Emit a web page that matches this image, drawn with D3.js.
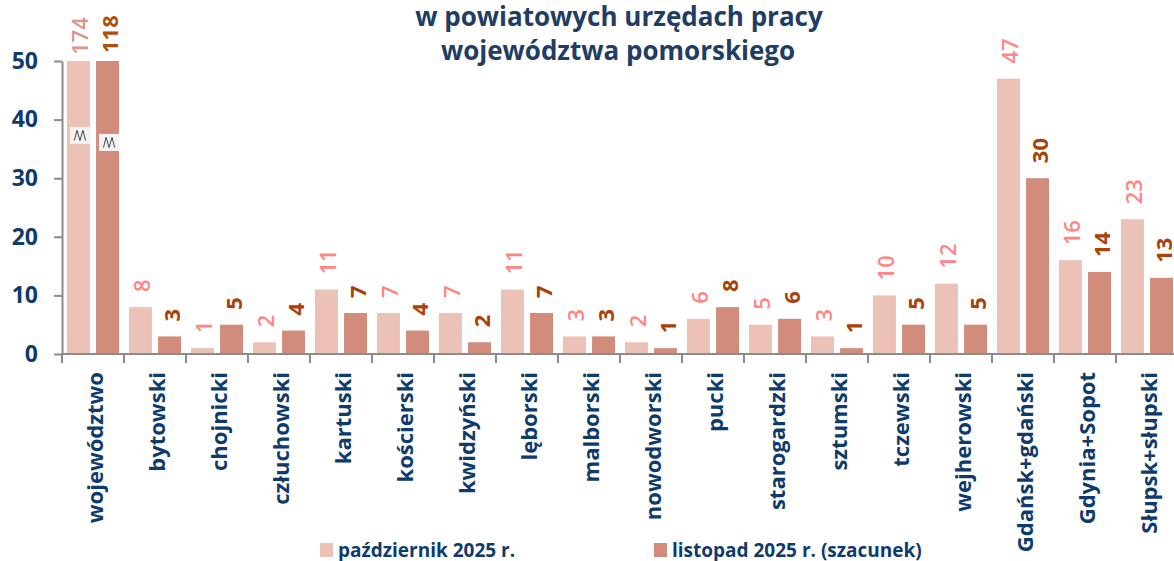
<!DOCTYPE html>
<html lang="pl">
<head>
<meta charset="UTF-8">
<title>Bezrobotni w powiatowych urzędach pracy</title>
<script src="https://cdn.jsdelivr.net/npm/d3@7"></script>
<style>
  body { margin: 0; background: #fff; }
  svg { display: block; font-family: "Open Sans", sans-serif; }
</style>
</head>
<body>
<svg id="chart" width="1174" height="561"></svg>
<script>
// categories and values
const categories = ["województwo", "bytowski", "chojnicki", "człuchowski", "kartuski", "kościerski",
  "kwidzyński", "lęborski", "malborski", "nowodworski", "pucki", "starogardzki", "sztumski",
  "tczewski", "wejherowski", "Gdańsk+gdański", "Gdynia+Sopot", "Słupsk+słupski"];
const october = [174, 8, 1, 2, 11, 7, 7, 11, 3, 2, 6, 5, 3, 10, 12, 47, 16, 23];
const november = [118, 3, 5, 4, 7, 4, 2, 7, 3, 1, 8, 6, 1, 5, 5, 30, 14, 13];
const seriesNames = ["październik 2025 r.", "listopad 2025 r. (szacunek)"];
const yTicks = [0, 10, 20, 30, 40, 50];
const yMax = 50;

const barColors = ["#ecc1b6", "#d18c7b"];
const labelColors = ["#ff8683", "#a8420a"];
const blue = "#0f3b6c";

const svg = d3.select("#chart");

// blurry edges of the bars
const defs = svg.append("defs");
defs.append("filter").attr("id", "soft")
  .append("feGaussianBlur").attr("stdDeviation", 0.7);

const x0 = d3.scaleBand().domain(categories).range([62, 1178]);
const x1 = d3.scaleBand().domain([0, 1]).range([0, x0.bandwidth()])
  .paddingInner(0.21).paddingOuter(0.17);
const y = d3.scaleLinear().domain([0, yMax]).range([354, 61]);

const rows = categories.map((c, i) => ({ cat: c, vals: [october[i], november[i]] }));

// title (first line is cut at the top in the original)
svg.append("text").attr("x", 619).attr("y", 26).attr("text-anchor", "middle")
  .attr("font-size", 26).attr("font-weight", 700).attr("fill", "#213d63")
  .text("w powiatowych urzędach pracy");
svg.append("text").attr("x", 618).attr("y", 60).attr("text-anchor", "middle")
  .attr("font-size", 26).attr("font-weight", 700).attr("fill", "#213d63")
  .text("województwa pomorskiego");

// bars
const groups = svg.append("g").selectAll("g").data(rows).join("g")
  .attr("transform", d => `translate(${x0(d.cat)},0)`);

groups.selectAll("rect").data(d => d.vals.map((v, s) => ({ v, s }))).join("rect")
  .attr("x", d => x1(d.s))
  .attr("width", x1.bandwidth())
  .attr("y", d => y(Math.min(d.v, yMax)))
  .attr("height", d => y(0) - y(Math.min(d.v, yMax)))
  .attr("fill", d => barColors[d.s])
  .attr("filter", "url(#soft)");

// value labels, rotated
groups.selectAll("text.val").data(d => d.vals.map((v, s) => ({ v, s }))).join("text")
  .attr("class", "val")
  .attr("transform", d => {
    const gap = d.v > yMax ? (d.s ? 8 : 6) : 15;
    return `translate(${x1(d.s) + x1.bandwidth() / 2 + 1},${y(Math.min(d.v, yMax)) - gap}) rotate(-90)`;
  })
  .attr("dominant-baseline", "central")
  .attr("font-size", 22)
  .attr("font-weight", d => d.s ? 700 : 600)
  .attr("fill", d => d.v > yMax ? (d.s ? "#b0500f" : "#d8978c") : labelColors[d.s])
  .text(d => d.v);

// axis break marks on bars that exceed the scale
const breakAt = [37.3, 36.1];
rows.forEach(r => {
  r.vals.forEach((v, s) => {
    if (v <= yMax) return;
    const bx = x0(r.cat) + x1(s) + 3;
    const by = y(breakAt[s]);
    const w = x1.bandwidth() - 3, h = 17;
    const g = svg.append("g").attr("transform", `translate(${bx},${by - h / 2})`);
    g.append("rect").attr("width", w).attr("height", h).attr("fill", "#f3f3f3");
    g.append("path")
      .attr("d", `M${w * 0.22},${h * 0.8} L${w * 0.35},${h * 0.2} L${w * 0.5},${h * 0.8} L${w * 0.65},${h * 0.2} L${w * 0.78},${h * 0.8}`)
      .attr("fill", "none").attr("stroke", "#444").attr("stroke-width", 1);
  });
});

// y axis
const yAxis = svg.append("g").attr("transform", "translate(62,0)")
  .call(d3.axisLeft(y).tickValues(yTicks).tickSize(8).tickSizeOuter(0).tickPadding(16));
yAxis.select(".domain").attr("stroke", "#8c8c8c").attr("stroke-width", 2);
yAxis.selectAll(".tick line").attr("stroke", "#8c8c8c").attr("stroke-width", 2);
yAxis.selectAll(".tick text").attr("font-size", 23).attr("font-weight", 700)
  .attr("fill", blue).attr("font-family", "'Open Sans', sans-serif");

// x axis line with ticks between categories
const xAxis = svg.append("g");
xAxis.append("line").attr("x1", 62).attr("x2", 1174).attr("y1", y(0)).attr("y2", y(0))
  .attr("stroke", "#8c8c8c").attr("stroke-width", 2);
xAxis.selectAll("line.tk").data(categories).join("line").attr("class", "tk")
  .attr("x1", d => x0(d)).attr("x2", d => x0(d))
  .attr("y1", y(0)).attr("y2", y(0) + 9)
  .attr("stroke", "#8c8c8c").attr("stroke-width", 2);

xAxis.selectAll("text").data(categories).join("text")
  .attr("transform", d => `translate(${x0(d) + x0.bandwidth() / 2 + 1},372) rotate(-90)`)
  .attr("text-anchor", "end")
  .attr("dominant-baseline", "central")
  .attr("font-size", 22).attr("font-weight", 700).attr("fill", blue)
  .text(d => d);

// legend
const legendX = [320, 654];
const legend = svg.append("g").selectAll("g").data(seriesNames).join("g")
  .attr("transform", (d, i) => `translate(${legendX[i]},543)`);
legend.append("rect").attr("width", 13).attr("height", 14)
  .attr("fill", (d, i) => barColors[i]);
legend.append("text").attr("x", 18).attr("y", 7)
  .attr("dominant-baseline", "central")
  .attr("font-size", 19).attr("font-weight", 700).attr("fill", blue)
  .text(d => d);
</script>
</body>
</html>
